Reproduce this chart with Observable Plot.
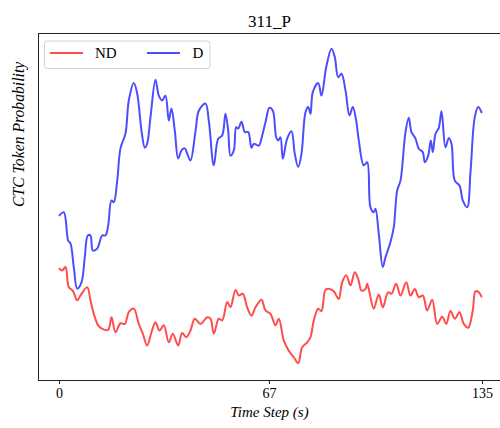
<!DOCTYPE html>
<html>
<head>
<meta charset="utf-8">
<script src="https://cdn.jsdelivr.net/npm/d3@7"></script>
<script src="https://cdn.jsdelivr.net/npm/@observablehq/plot@0.6"></script>
<style>
  html, body { margin: 0; padding: 0; background: #fff; overflow: hidden; }
  #chart svg { display: block; }
  #chart svg text, #chart svg tspan { font-family: "Liberation Serif", "Times New Roman", serif !important; }
</style>
</head>
<body>
<div id="chart"></div>
<script>
const title = "311_P";
const xLabel = "Time Step (s)";
const yLabel = "CTC Token Probability";
const xTicks = [0, 67, 135];
const seriesNames = ["ND", "D"];
const seriesColors = ["rgb(255,77,77)", "rgb(77,77,255)"];

// D (blue)
const dTime = [0,1.37,2.78,3.51,4.56,5.65,7.02,8.07,9.03,9.89,10.63,12.03,13.63,14.68,15.54,16.6,17.33,18.42,19.47,21.06,22.12,23.71,24.8,26.17,27.22,27.99,29.04,30.64,31.69,32.78,33.83,34.88,35.74,36.8,37.88,38.94,39.99,40.76,41.81,43.4,44.5,46.6,47.65,49.25,50.65,51.93,52.98,53.84,54.57,55.63,56.39,57.03,58.09,59.14,60.22,61.28,62.01,63.61,64.69,65.74,67.02,68.07,69.16,69.8,70.53,71.27,72.67,74.04,75.1,76.18,77.23,78.51,79.37,80.11,80.84,82.57,83.62,85.12,86.81,87.86,88.95,90,91.28,92.55,93.61,94.69,95.52,97.12,98.2,99.26,100.31,100.85,101.9,103.18,104.04,105.64,106.69,107.78,108.83,110.43,111.48,112.34,113.62,114.67,115.95,116.59,117.67,118.5,119.14,120,121.05,121.92,123.19,124.25,125.11,126.16,127.66,128.71,130.12,131.17,132.54,133.63,134.68];
const dProb = [0.476,0.485,0.403,0.395,0.327,0.265,0.283,0.355,0.418,0.418,0.375,0.380,0.418,0.418,0.447,0.519,0.514,0.576,0.669,0.712,0.807,0.857,0.827,0.720,0.671,0.683,0.759,0.867,0.821,0.807,0.821,0.749,0.784,0.720,0.640,0.663,0.669,0.654,0.634,0.718,0.778,0.798,0.749,0.620,0.697,0.706,0.769,0.720,0.648,0.663,0.730,0.726,0.746,0.716,0.716,0.671,0.682,0.677,0.706,0.744,0.786,0.778,0.701,0.692,0.701,0.639,0.697,0.718,0.653,0.615,0.653,0.773,0.788,0.769,0.831,0.857,0.821,0.903,0.956,0.932,0.874,0.884,0.836,0.764,0.788,0.749,0.692,0.620,0.629,0.499,0.485,0.495,0.423,0.327,0.355,0.399,0.442,0.548,0.576,0.716,0.757,0.716,0.697,0.668,0.658,0.629,0.648,0.692,0.658,0.711,0.728,0.776,0.672,0.699,0.682,0.576,0.562,0.519,0.499,0.600,0.759,0.788,0.773];

// ND (red)
const ndTime = [0,0.86,1.91,2.97,4.24,5.65,6.7,8.84,9.89,10.95,12.35,13.63,15.54,16.6,17.87,19.47,20.84,22.12,23.71,25.31,26.59,27.99,29.36,30.64,31.91,33.29,34.88,36.16,37.88,39.16,40.44,41.81,43.18,45,47.14,48.19,49.25,50.84,51.93,53.52,54.57,56.17,57.22,58.5,59.9,61.28,62.55,64.47,65.74,67.34,68.94,69.99,71.59,73.18,74.78,76.18,77.46,79.05,80.11,81.16,82.57,83.62,84.89,86.17,87.54,88.63,89.17,90.22,91.5,92.87,94.24,95.33,96.38,97.66,98.2,98.94,100.31,101.9,103.18,104.9,105.96,107.46,108.83,110.65,112.02,113.4,114.67,115.95,117.35,118.95,120.54,122.14,123.42,124.79,126.16,127.66,129.03,130.44,131.9,132.77,133.85,134.68];
const ndProb = [0.322,0.317,0.327,0.269,0.259,0.231,0.245,0.269,0.231,0.192,0.159,0.149,0.146,0.182,0.139,0.165,0.163,0.197,0.207,0.163,0.135,0.101,0.139,0.168,0.144,0.159,0.110,0.135,0.101,0.137,0.125,0.144,0.178,0.163,0.182,0.178,0.135,0.178,0.173,0.226,0.211,0.261,0.245,0.250,0.211,0.187,0.211,0.233,0.202,0.192,0.159,0.178,0.115,0.086,0.067,0.050,0.096,0.110,0.125,0.173,0.207,0.200,0.261,0.264,0.257,0.240,0.235,0.283,0.303,0.274,0.312,0.293,0.259,0.264,0.279,0.254,0.207,0.248,0.211,0.254,0.250,0.279,0.245,0.283,0.245,0.264,0.240,0.245,0.202,0.233,0.163,0.184,0.163,0.200,0.178,0.197,0.163,0.152,0.202,0.257,0.254,0.242];

const rows = [];
ndTime.forEach((t, i) => rows.push({t, p: ndProb[i], s: seriesNames[0]}));
dTime.forEach((t, i) => rows.push({t, p: dProb[i], s: seriesNames[1]}));

const xDomain = [-6.70, 140.75];
const font = "Liberation Serif";

const plot = Plot.plot({
  width: 500,
  height: 428,
  marginTop: 33,
  marginBottom: 48,
  marginLeft: 38,
  marginRight: 0,
  style: {fontFamily: font, fontSize: "14px", color: "#000", background: "#fff"},
  x: {domain: xDomain, axis: null},
  y: {domain: [0, 1], axis: null},
  color: {domain: seriesNames, range: seriesColors},
  marks: [
    Plot.lineY(rows, {x: "t", y: "p", z: "s", stroke: "s", strokeWidth: 2, curve: "catmull-rom"}),
    Plot.ruleY([0, 1], {stroke: "#222", strokeWidth: 1}),
    Plot.ruleX([xDomain[0]], {stroke: "#222", strokeWidth: 1}),
    Plot.axisX(xTicks, {anchor: "bottom", tickSize: 4, tickPadding: 4, fontSize: 14, label: null, tickFormat: d => String(d), stroke: "#222", fontFamily: font}),
    Plot.text([title], {frameAnchor: "top", lineAnchor: "bottom", dy: -7, fontSize: 17, fill: "#000", fontFamily: font}),
    Plot.text([xLabel], {frameAnchor: "bottom", dy: 36, fontSize: 15, fontStyle: "italic", fill: "#000", fontFamily: font}),
    Plot.text([yLabel], {frameAnchor: "left", dx: -20, rotate: -90, fontSize: 15.7, fontStyle: "italic", fill: "#000", fontFamily: font})
  ]
});

document.getElementById("chart").append(plot);

// Legend (inside the plot, top-left)
const svg = d3.select(plot);
const lg = svg.append("g").attr("font-family", font).attr("font-size", 15).attr("text-anchor", "start");
lg.append("rect").attr("x", 44.5).attr("y", 41).attr("width", 165.5).attr("height", 27.5)
  .attr("rx", 3).attr("fill", "#fff").attr("fill-opacity", 0.85).attr("stroke", "#d0d0d0");
const entries = [
  {name: seriesNames[0], color: seriesColors[0], x0: 50, x1: 83, tx: 95},
  {name: seriesNames[1], color: seriesColors[1], x0: 147, x1: 180, tx: 192.5}
];
entries.forEach(e => {
  lg.append("line").attr("x1", e.x0).attr("x2", e.x1).attr("y1", 53).attr("y2", 53)
    .attr("stroke", e.color).attr("stroke-width", 2);
  lg.append("text").attr("x", e.tx).attr("y", 58).attr("text-anchor", "start").attr("fill", "#000").text(e.name);
});
</script>
</body>
</html>
